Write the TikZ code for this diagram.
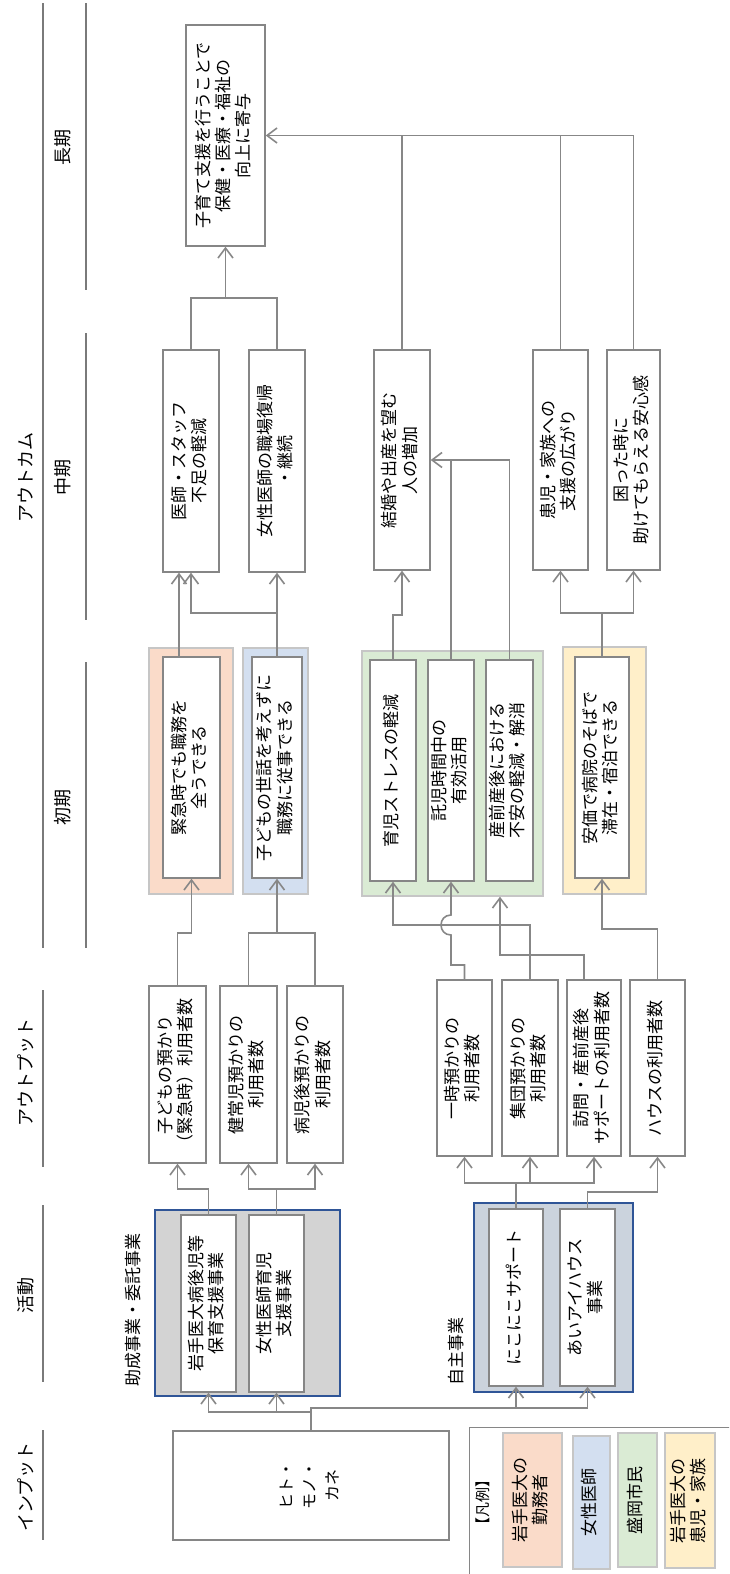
\documentclass[tikz,border=0pt]{standalone}
\usepackage{fontspec}
\setmainfont{Noto Sans CJK JP}
\usetikzlibrary{arrows.meta}

\definecolor{linegray}{HTML}{878787}
\definecolor{boxgray}{HTML}{868686}
\definecolor{lanegray}{HTML}{7A7A7A}
\definecolor{framegray}{HTML}{C6C6C6}
\definecolor{navy}{HTML}{2F5597}
\definecolor{fillgray}{HTML}{D3D3D3}
\definecolor{fillslate}{HTML}{CBD3DD}
\definecolor{pinkfill}{HTML}{FADBC9}
\definecolor{bluefill}{HTML}{D3DFF0}
\definecolor{greenfill}{HTML}{DAEBD4}
\definecolor{yellowfill}{HTML}{FFEFC9}

\newcommand{\vtext}[1]{\rotatebox{90}{\begin{tabular}{@{}c@{}}#1\end{tabular}}}

\tikzset{
  box/.style={draw=boxgray, line width=1.4pt, fill=white, inner sep=0pt, font=\fontsize{17}{20}\selectfont},
  frame/.style={draw=framegray, line width=1.4pt, inner sep=0pt},
  grp/.style={draw=navy, line width=1.4pt, inner sep=0pt},
  lane/.style={inner sep=0pt, font=\fontsize{18}{20}\selectfont},
  laneline/.style={draw=lanegray, line width=1.5pt},
  conn/.style={draw=linegray, line width=1.6pt},
  arr/.style={conn, -{Straight Barb[length=10pt,width=15pt]}},
}

\begin{document}
\begin{tikzpicture}[x=1pt, y=-1pt]
    \useasboundingbox (0,0) rectangle (729,1574);
    \clip (0,0) rectangle (729,1574);

    % lanes
    \node[lane] (laneIn) at (28,1487) {\vtext{インプット}};
    \node[lane] (laneAct) at (28,1295) {\vtext{活動}};
    \node[lane] (laneOut) at (28,1072) {\vtext{アウトプット}};
    \node[lane] (laneRes) at (28,477) {\vtext{アウトカム}};
    \node[lane] (laneEarly) at (65,807) {\vtext{初期}};
    \node[lane] (laneMid) at (65,477) {\vtext{中期}};
    \node[lane] (laneLong) at (65,147) {\vtext{長期}};
    \foreach \x/\a/\b in {43/1430/1540, 43/1205/1382, 43/990/1167, 43/3/948,
                          86/3/290, 86/333/620, 86/662/948}
        \draw[laneline] (\x,\a) -- (\x,\b);

    % input
    \node[box, minimum width=276pt, minimum height=109pt, font=\fontsize{16}{23}\selectfont] (inp) at (311,1485.5) {\vtext{ヒト・\\モノ・\\カネ}};

    % activities
    \node[grp, fill=fillgray, minimum width=185pt, minimum height=186pt] (grpA) at (247.5,1303) {};
    \node[box, minimum width=55pt, minimum height=177pt] (act1) at (208.5,1303.5) {\vtext{岩手医大病後児等\\保育支援事業}};
    \node[box, minimum width=55pt, minimum height=177pt] (act2) at (276.5,1303.5) {\vtext{女性医師育児\\支援事業}};
    \node[lane, anchor=south, font=\fontsize{17}{20}\selectfont] (grpAlbl) at (135,1387) {\vtext{助成事業・委託事業}};

    \node[grp, fill=fillslate, minimum width=159pt, minimum height=189pt] (grpB) at (553.5,1297.5) {};
    \node[box, minimum width=54pt, minimum height=177pt] (act3) at (516,1297.5) {\vtext{にこにこサポート}};
    \node[box, minimum width=55pt, minimum height=177pt] (act4) at (587.5,1297.5) {\vtext{あいアイハウス\\事業}};
    \node[lane, anchor=south, font=\fontsize{17}{20}\selectfont] (grpBlbl) at (458,1386) {\vtext{自主事業}};

    % outputs
    \node[box, minimum width=57pt, minimum height=177pt] (out1) at (177.5,1074.5) {\vtext{子どもの預かり\\（緊急時）利用者数}};
    \node[box, minimum width=57pt, minimum height=177pt] (out2) at (248.5,1074.5) {\vtext{健常児預かりの\\利用者数}};
    \node[box, minimum width=56pt, minimum height=177pt] (out3) at (315,1074.5) {\vtext{病児後預かりの\\利用者数}};
    \node[box, minimum width=55pt, minimum height=176pt] (out4) at (464.5,1068) {\vtext{一時預かりの\\利用者数}};
    \node[box, minimum width=56pt, minimum height=176pt] (out5) at (530,1068) {\vtext{集団預かりの\\利用者数}};
    \node[box, minimum width=54pt, minimum height=176pt] (out6) at (594,1068) {\vtext{訪問・産前産後\\サポートの利用者数}};
    \node[box, minimum width=55pt, minimum height=176pt] (out7) at (657.5,1068) {\vtext{ハウスの利用者数}};

    % early outcomes
    \node[frame, fill=pinkfill, minimum width=84pt, minimum height=246pt] (pinkF) at (191,771) {};
    \node[box, minimum width=57pt, minimum height=221pt] (early1) at (191.5,767.5) {\vtext{緊急時でも職務を\\全うできる}};
    \node[frame, fill=bluefill, minimum width=65pt, minimum height=246pt] (blueF) at (275.5,771) {};
    \node[box, minimum width=50pt, minimum height=221pt] (early2) at (277,767.5) {\vtext{子どもの世話を考えずに\\職務に従事できる}};
    \node[frame, fill=greenfill, minimum width=181pt, minimum height=245pt] (greenF) at (452.5,773.5) {};
    \node[box, minimum width=46pt, minimum height=221pt] (early3) at (393,770.5) {\vtext{育児ストレスの軽減}};
    \node[box, minimum width=46pt, minimum height=221pt] (early4) at (451,770.5) {\vtext{託児時間中の\\有効活用}};
    \node[box, minimum width=47pt, minimum height=221pt] (early5) at (509.5,770.5) {\vtext{産前産後における\\不安の軽減・解消}};
    \node[frame, fill=yellowfill, minimum width=83pt, minimum height=247pt] (yellowF) at (604.5,770.5) {};
    \node[box, minimum width=54pt, minimum height=221pt] (early6) at (602,767.5) {\vtext{安価で病院のそばで\\滞在・宿泊できる}};

    % mid outcomes
    \node[box, minimum width=56pt, minimum height=222pt] (mid1) at (191,461) {\vtext{医師・スタッフ\\不足の軽減}};
    \node[box, minimum width=56pt, minimum height=222pt] (mid2) at (277,461) {\vtext{女性医師の職場復帰\\・継続}};
    \node[box, minimum width=56pt, minimum height=220pt] (mid3) at (402,460) {\vtext{結婚や出産を望む\\人の増加}};
    \node[box, minimum width=55pt, minimum height=220pt] (mid4) at (560.5,460) {\vtext{患児・家族への\\支援の広がり}};
    \node[box, minimum width=53pt, minimum height=220pt] (mid5) at (633.5,460) {\vtext{困った時に\\助けてもらえる安心感}};

    % long-term outcome
    \node[box, minimum width=79pt, minimum height=221pt] (goal) at (225.5,135.5) {\vtext{子育て支援を行うことで\\保健・医療・福祉の\\向上に寄与}};

    % legend
    \node[draw=boxgray, line width=1.4pt, anchor=north west, minimum width=290pt, minimum height=170pt] (legend) at (469,1427) {};
    \node[lane, font=\fontsize{15}{18}\selectfont] (legendlbl) at (485,1502) {\vtext{【凡例】}};
    \node[box, draw=framegray, fill=pinkfill, minimum width=59pt, minimum height=134pt] (keyStaff) at (532.5,1500) {\vtext{岩手医大の\\勤務者}};
    \node[box, draw=framegray, fill=bluefill, minimum width=37pt, minimum height=133pt] (keyDoc) at (591.5,1502.5) {\vtext{女性医師}};
    \node[box, draw=framegray, fill=greenfill, minimum width=39pt, minimum height=134pt] (keyCity) at (637.5,1500) {\vtext{盛岡市民}};
    \node[box, draw=framegray, fill=yellowfill, minimum width=50pt, minimum height=135pt] (keyFam) at (690,1500.5) {\vtext{岩手医大の\\患児・家族}};

    % input -> activities
    \draw[arr] (inp.north) |- (act4.south |- 0,1408) -- (act4.south);
    \draw[arr] (act3.south |- 0,1408) -- (act3.south);
    \draw[arr] (inp.north |- 0,1412) -| (act1.south);
    \draw[arr] (act2.south |- 0,1412) -- (act2.south);

    % activities -> outputs
    \draw[arr] (act1.north) |- (out1.south |- 0,1189) -- (out1.south);
    \draw[arr] (act2.north) |- (out2.south |- 0,1189) -- (out2.south);
    \draw[arr] (act2.north |- 0,1189) -| (out3.south);
    \draw[arr] (act3.north) |- (out4.south |- 0,1183) -- (out4.south);
    \draw[arr] (act3.north |- 0,1183) -| (out6.south);
    \draw[arr] (out5.south |- 0,1183) -- (out5.south);
    \draw[arr] (act4.north) |- (out7.south |- 0,1192) -- (out7.south);

    % outputs -> early outcomes
    \draw[arr] (out1.north) |- (early1.south |- 0,933) -- (early1.south);
    \draw[arr] (out2.north) |- (early2.south |- 0,933) -- (early2.south);
    \draw[conn] (out3.north) |- (early2.south |- 0,933);
    \draw[arr] (out5.north) |- (early3.south |- 0,925) -- (early3.south);
    \draw[arr] (out4.north) |- (early4.south |- 0,965) -- (early4.south |- 0,935)
        .. controls (437.7,935) and (437.7,915) .. (early4.south |- 0,915) -- (early4.south);
    \draw[arr] ([xshift=-10pt]out6.north) |- (500,955) -- (greenF.south -| 500,0);
    \draw[arr] (out7.north) |- (early6.south |- 0,929) -- (early6.south);

    % early -> mid outcomes
    \draw[arr] (early1.north -| 179,0) -- (mid1.south -| 179,0);
    \draw[arr] (early2.north) |- (mid1.south |- 0,613) -- (mid1.south);
    \draw[arr] (early2.north) -- (mid2.south);
    \draw[arr] (early3.north) |- (mid3.south |- 0,615) -- (mid3.south);
    \draw[conn] (early4.north) -- (early4.north |- mid3.east);
    \draw[arr] (early5.north) |- (mid3.east);
    \draw[arr] (early6.north) |- (mid4.south |- 0,613) -- (mid4.south);
    \draw[arr] (early6.north |- 0,613) -| (mid5.south);

    % mid -> long-term
    \draw[arr] (mid1.north) |- (goal.south |- 0,298) -- (goal.south);
    \draw[conn] (mid2.north) |- (goal.south |- 0,298);
    \draw[arr] (mid5.north) |- (goal.east);
    \draw[conn] (mid3.north) -- (mid3.north |- goal.east);
    \draw[conn] (mid4.north) -- (mid4.north |- goal.east);
\end{tikzpicture}
\end{document}
